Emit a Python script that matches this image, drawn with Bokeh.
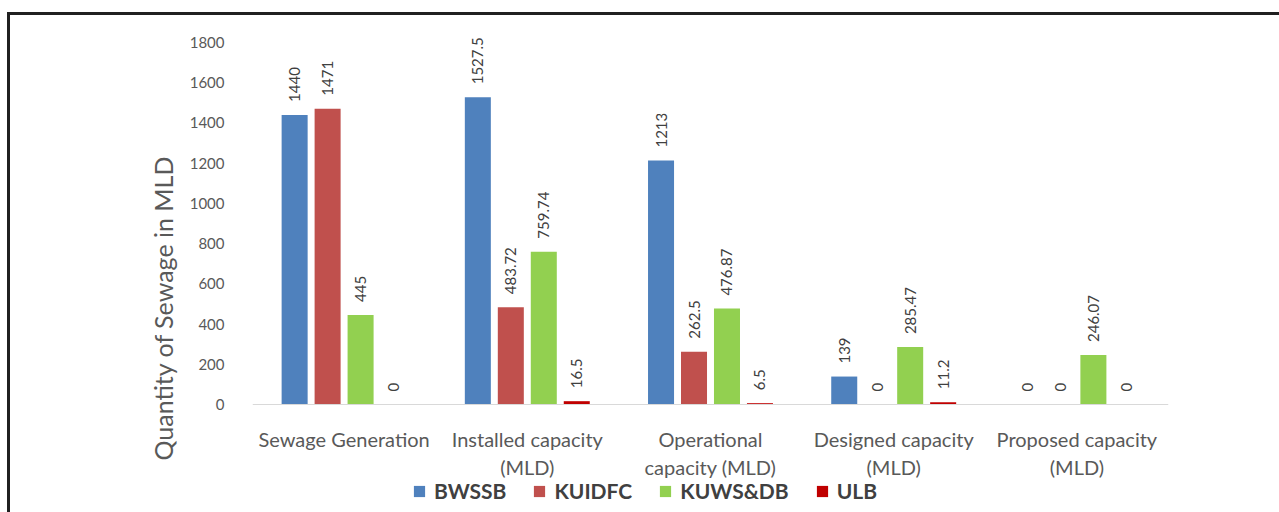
from math import pi
from bokeh.plotting import figure
from bokeh.models import (ColumnDataSource, FactorRange, Range1d, FixedTicker,
                          Legend, LegendItem, Title)
from bokeh.transform import dodge
from bokeh.core.properties import value
from bokeh.embed import file_html
from bokeh.resources import INLINE

categories = ["Sewage Generation", "Installed capacity\n(MLD)", "Operational\ncapacity (MLD)",
              "Designed capacity\n(MLD)", "Proposed capacity\n(MLD)"]
series_names = ["BWSSB", "KUIDFC", "KUWS&DB", "ULB"]
bwssb = [1440, 1527.5, 1213, 139, 0]
kuidfc = [1471, 483.72, 262.5, 0, 0]
kuwsdb = [445, 759.74, 476.87, 285.47, 246.07]
ulb = [0, 16.5, 6.5, 11.2, 0]
y_ticks = [0, 200, 400, 600, 800, 1000, 1200, 1400, 1600, 1800]

colors = ["#4F81BD", "#C0504D", "#92D050", "#C00000"]
offsets = [-0.27, -0.09, 0.09, 0.27]
series_values = [bwssb, kuidfc, kuwsdb, ulb]

p = figure(x_range=FactorRange(*categories), y_range=Range1d(-537, 1909.4),
           frame_width=916, frame_height=492, output_backend="svg", toolbar_location=None,
           min_border_left=242, min_border_right=111, min_border_top=5, min_border_bottom=0)
p.margin = (12, 0, 0, 7)
p.styles = {"border-top": "3px solid #202020", "border-left": "3px solid #202020"}

p.outline_line_color = None
p.xgrid.grid_line_color = None
p.ygrid.grid_line_color = None
p.background_fill_color = "white"
p.border_fill_color = "white"

items = []
for name, vals, col, off in zip(series_names, series_values, colors, offsets):
    src = ColumnDataSource(dict(cat=categories, val=vals, lab=[f"{v:g}" for v in vals]))
    r = p.vbar(x=dodge("cat", off, range=p.x_range), top="val", width=0.142, source=src,
               fill_color=col, line_color=None)
    p.text(x=dodge("cat", off, range=p.x_range), y="val", text="lab", source=src,
           angle=pi / 2, text_align="left", text_baseline="middle", y_offset=-13,
           text_font=value("Lato"), text_font_size="15px", text_color="#404040")
    items.append(LegendItem(label=name, renderers=[r]))

# axes
p.yaxis.ticker = FixedTicker(ticks=y_ticks)
p.yaxis.axis_line_color = None
p.yaxis.major_tick_line_color = None
p.yaxis.minor_tick_line_color = None
p.yaxis.major_label_standoff = 22
p.yaxis.major_label_text_font = "Lato"
p.yaxis.major_label_text_font_size = "15px"
p.yaxis.major_label_text_color = "#595959"

p.xaxis.fixed_location = 0
p.xaxis.axis_line_color = "#D9D9D9"
p.xaxis.axis_line_width = 1
p.xaxis.major_tick_line_color = None
p.xaxis.minor_tick_line_color = None
p.xaxis.major_label_standoff = 16
p.xaxis.major_label_text_font = "Lato"
p.xaxis.major_label_text_font_size = "20px"
p.xaxis.major_label_text_color = "#595959"

ytitle = Title(text="Quantity of Sewage in MLD", align="left", offset=52, standoff=18,
               text_font="Lato", text_font_size="25px", text_font_style="normal",
               text_color="#595959")
p.add_layout(ytitle, "left")

legend = Legend(items=items, orientation="horizontal", location=(160, 9),
                glyph_width=14, glyph_height=14, label_text_font="Lato",
                label_text_font_size="21px", label_text_font_style="bold",
                label_text_color="#404040", spacing=26, padding=0, margin=0,
                border_line_color=None, background_fill_alpha=0, label_standoff=8)
p.add_layout(legend, "center")

open("out.html", "w").write(file_html(p, INLINE))
